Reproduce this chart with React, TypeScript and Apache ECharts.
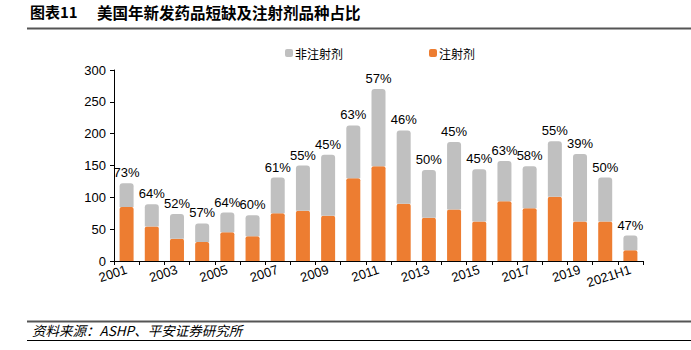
import React, { useEffect, useRef } from "react";
import * as echarts from "echarts";

const categories = ["2001","2002","2003","2004","2005","2006","2007","2008","2009","2010","2011","2012","2013","2014","2015","2016","2017","2018","2019","2020","2021H1"];
const totalShortages = [122, 89, 74, 59, 76, 72, 131, 150, 167, 213, 270, 205, 143, 187, 144, 157, 149, 188, 168, 131, 40];
const injectable = [85, 54, 35, 30, 45, 39, 75, 79, 71, 130, 149, 90, 68, 81, 62, 94, 83, 101, 62, 62, 17];
const shareLabels = ["73%","64%","52%","57%","64%","60%","61%","55%","45%","63%","57%","46%","50%","45%","45%","63%","58%","55%","39%","50%","47%"];
const yTicks = [0, 50, 100, 150, 200, 250, 300];

const nonInjectable = totalShortages.map((t, i) => t - injectable[i]);

const FONT = "'Liberation Sans', Arial, 'Noto Sans CJK SC', sans-serif";
const CJK = "'Noto Sans CJK SC', 'Liberation Sans', sans-serif";

export default function App() {
  const ref = useRef<HTMLDivElement>(null);
  useEffect(() => {
    if (!ref.current) return;
    const chart = echarts.init(ref.current, undefined, { renderer: "svg" });
    chart.setOption({
      animation: false,
      backgroundColor: "#ffffff",
      textStyle: { fontFamily: FONT },
      graphic: [
        {
          type: "text",
          left: 30,
          top: 4,
          style: { text: "图表11", font: "bold 15px " + CJK, fill: "#000" },
        },
        {
          type: "text",
          left: 97,
          top: 4,
          style: { text: "美国年新发药品短缺及注射剂品种占比", font: "bold 15.5px " + CJK, fill: "#000" },
        },
        { type: "line", shape: { x1: 27, y1: 28.5, x2: 691, y2: 28.5 }, style: { stroke: "#555", lineWidth: 2 } },
        { type: "line", shape: { x1: 27, y1: 321.5, x2: 691, y2: 321.5 }, style: { stroke: "#555", lineWidth: 2 } },
        {
          type: "text",
          left: 32,
          top: 323,
          style: { text: "资料来源：ASHP、平安证券研究所", font: "italic 13.5px " + CJK, fill: "#000" },
        },
        { type: "line", shape: { x1: 27, y1: 340.5, x2: 691, y2: 340.5 }, style: { stroke: "#000", lineWidth: 1 } },
      ],
      legend: {
        left: 280,
        top: 42,
        itemWidth: 8,
        itemHeight: 8,
        itemGap: 86,
        icon: "roundRect",
        textStyle: { fontFamily: CJK, fontSize: 12, color: "#000", padding: [0, 0, 0, -3] },
        data: ["非注射剂", "注射剂"],
      },
      grid: { left: 114, right: 48, top: 70, bottom: 89, containLabel: false },
      xAxis: {
        type: "category",
        data: categories,
        axisLine: { lineStyle: { color: "#000", width: 1 } },
        axisTick: { show: true, interval: 0, alignWithLabel: false, length: 4, lineStyle: { color: "#000" } },
        axisLabel: { interval: 1, rotate: 18, fontSize: 13, color: "#000", margin: 8, fontFamily: FONT },
      },
      yAxis: {
        type: "value",
        min: yTicks[0],
        max: yTicks[yTicks.length - 1],
        interval: 50,
        axisLine: { show: true, lineStyle: { color: "#000", width: 1 } },
        axisTick: { show: true, length: 4, inside: false, lineStyle: { color: "#000" } },
        splitLine: { show: false },
        axisLabel: { fontSize: 13, color: "#000", margin: 8, fontFamily: FONT },
      },
      series: [
        {
          name: "注射剂",
          type: "bar",
          stack: "total",
          barWidth: 14,
          data: injectable,
          itemStyle: { color: "#ED7D31", borderRadius: [2, 2, 0, 0] },
        },
        {
          name: "非注射剂",
          type: "bar",
          stack: "total",
          barWidth: 14,
          data: nonInjectable,
          itemStyle: { color: "#C0C0C0", borderRadius: [3, 3, 0, 0] },
          label: {
            show: true,
            position: "top",
            distance: 4,
            fontSize: 13,
            color: "#000",
            fontFamily: FONT,
            formatter: (p: any) => shareLabels[p.dataIndex],
          },
        },
      ],
    });
    return () => chart.dispose();
  }, []);
  return <div ref={ref} style={{ width: 691, height: 350, position: "absolute", left: 0, top: 0 }} />;
}
